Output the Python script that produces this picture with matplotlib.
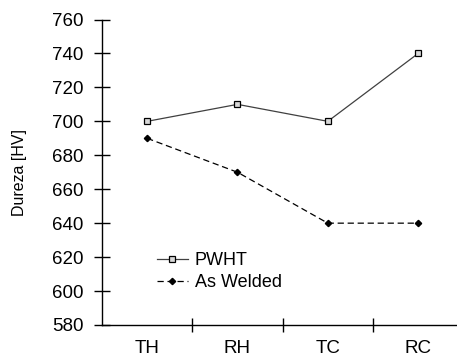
import matplotlib
matplotlib.use("Agg")
from matplotlib import pyplot as plt

categories = ["TH", "RH", "TC", "RC"]
pwht = [700, 710, 700, 740]
as_welded = [690, 670, 640, 640]
y_ticks = [580, 600, 620, 640, 660, 680, 700, 720, 740, 760]

plt.rcParams["font.family"] = ["Liberation Sans", "DejaVu Sans"]

fig = plt.figure(figsize=(4.57, 3.56), dpi=100)
ax = fig.add_axes([0.2232, 0.0871, 0.7768, 0.8581])

x = list(range(1, len(categories) + 1))
ax.plot(x, pwht, color="#404040", linewidth=0.9, marker="s", markersize=4.5,
        markerfacecolor="#d8d8d8", markeredgecolor="black", markeredgewidth=0.9,
        label="PWHT")
ax.plot(x, as_welded, color="black", linewidth=0.9, linestyle=(0, (5, 3)),
        marker="D", markersize=3.2, markerfacecolor="black", markeredgecolor="black",
        label="As Welded")

ax.set_xlim(0.5, 4.43)
ax.set_ylim(580, 760)
ax.set_yticks(y_ticks)
ax.set_xticks([1.5, 2.5, 3.5])
ax.set_xticklabels([])
for xi, name in zip(x, categories):
    ax.text(xi, -0.076, name, transform=ax.get_xaxis_transform(),
            ha="center", va="center", fontsize=13.5)

ax.tick_params(axis="y", direction="inout", length=11, width=1, labelsize=13.5, pad=8)
ax.tick_params(axis="x", direction="inout", length=10, width=1)
for side in ["top", "right"]:
    ax.spines[side].set_visible(False)
for side in ["left", "bottom"]:
    ax.spines[side].set_linewidth(1)

ax.set_ylabel("Dureza [HV]", fontsize=11.5)
ax.yaxis.set_label_coords(-0.211, 0.50)

ax.legend(loc="center left", bbox_to_anchor=(0.155, 0.175), frameon=False,
          fontsize=13, handlelength=1.7, handletextpad=0.4, labelspacing=0.3,
          borderpad=0, borderaxespad=0)

fig.savefig("out.png", dpi=100)
